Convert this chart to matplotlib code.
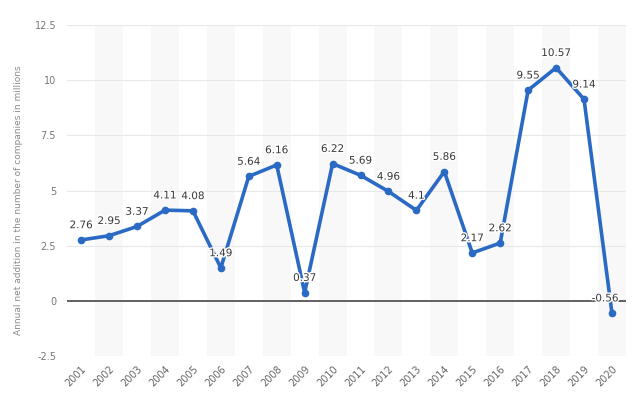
import matplotlib.pyplot as plt
import matplotlib.patheffects as pe
import numpy as np

years = [str(y) for y in range(2001, 2021)]
values = [2.76, 2.95, 3.37, 4.11, 4.08, 1.49, 5.64, 6.16, 0.37, 6.22,
          5.69, 4.96, 4.1, 5.86, 2.17, 2.62, 9.55, 10.57, 9.14, -0.56]
labels = ['2.76', '2.95', '3.37', '4.11', '4.08', '1.49', '5.64', '6.16', '0.37', '6.22',
          '5.69', '4.96', '4.1', '5.86', '2.17', '2.62', '9.55', '10.57', '9.14', '-0.56']
yticks = [-2.5, 0, 2.5, 5, 7.5, 10, 12.5]
ytick_labels = ['-2.5', '0', '2.5', '5', '7.5', '10', '12.5']

fig = plt.figure(figsize=(6.4, 3.99), dpi=100)
ax = fig.add_axes([0.105, 0.108, 0.873, 0.829])

x = np.arange(len(years))

# alternating column shading
for i in x:
    if i % 2 == 1:
        ax.axvspan(i - 0.5, i + 0.5, color='#f8f8f8', zorder=0, lw=0)

for t in yticks:
    if t == 0:
        ax.axhline(0, color='#555555', lw=1.3, zorder=1)
    else:
        ax.axhline(t, color='#e8e8e8', lw=0.8, zorder=1)

ax.plot(x, values, color='#2a6ac4', lw=2.6, marker='o', markersize=4.5, zorder=3)

for i, v in enumerate(values):
    dx = -5 if i == len(values) - 1 else 0
    ax.annotate(labels[i], (i, v), xytext=(dx, 7), textcoords='offset points',
                ha='center', va='bottom', fontsize=7.5, color='#3a3a3a', zorder=4,
                path_effects=[pe.withStroke(linewidth=2, foreground='white')])

ax.set_xlim(-0.5, len(years) - 0.5)
ax.set_ylim(-2.5, 12.5)
ax.set_xticks(x)
ax.set_xticklabels(years, rotation=45, ha='right', rotation_mode='anchor',
                   fontsize=7, color='#666666')
ax.set_yticks(yticks)
ax.set_yticklabels(ytick_labels, fontsize=7, color='#777777')
ax.tick_params(length=0, pad=8)
ax.tick_params(axis='x', pad=6)
for s in ax.spines.values():
    s.set_visible(False)

ax.set_ylabel('Annual net addition in the number of companies in millions',
              fontsize=6.5, color='#8a8a8a')
ax.yaxis.set_label_coords(-0.08, 0.47)

fig.savefig('out.png', dpi=100, facecolor='white')
